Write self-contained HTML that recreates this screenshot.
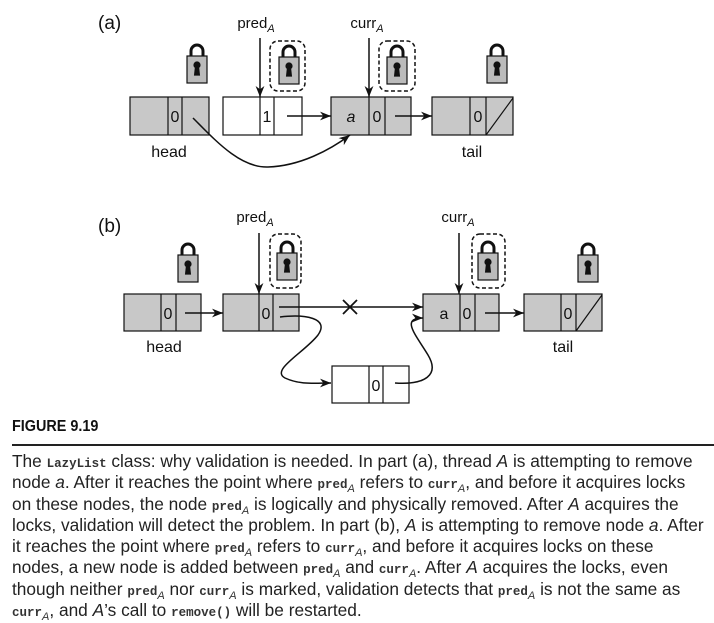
<!DOCTYPE html>
<html><head><meta charset="utf-8"><style>
body{margin:0;background:#fff;width:714px;height:617px;overflow:hidden;position:relative;font-family:"Liberation Sans",sans-serif}
svg{position:absolute;left:0;top:0}
#cap{position:absolute;left:0;top:418px;width:714px}
.fig{position:absolute;left:12px;top:0;font-family:"Liberation Sans",sans-serif;font-weight:bold;font-size:16px;color:#111;transform:scaleX(0.9);transform-origin:left}
.rule{position:absolute;left:12px;top:26px;width:702px;height:1.5px;background:#222}
.txt{position:absolute;left:12px;top:33px;font-family:"Liberation Sans",sans-serif;font-size:17.3px;line-height:21.3px;color:#222;white-space:nowrap}
code{font-family:"Liberation Mono",monospace;font-size:12.5px;font-weight:bold;color:#333;line-height:0}
code sub{font-family:"Liberation Sans",sans-serif;font-style:italic;font-weight:normal;font-size:11px;vertical-align:baseline;position:relative;top:4px;line-height:0}
</style></head><body>
<svg width="714" height="420" viewBox="0 0 714 420">
<defs>
<marker id="ah" viewBox="0 0 10 10" refX="10" refY="5" markerWidth="11" markerHeight="11" orient="auto" markerUnits="userSpaceOnUse"><path d="M0,1 L10,5 L0,9 L3,5 Z" fill="#111"/></marker>
<g id="lock"><path d="M4,14 V8 A6,6 0 0 1 16,8 V14" fill="none" stroke="#111" stroke-width="3"/><rect x="0" y="13" width="20" height="27" fill="#bbb" stroke="#111" stroke-width="1.2"/><circle cx="10" cy="22" r="3" fill="#111"/><path d="M8.6,23 L7.6,32 H12.4 L11.4,23 Z" fill="#111"/></g>
</defs>
<g font-family="Liberation Sans,sans-serif" font-size="17" fill="#111" stroke="none">
<text x="98" y="29" font-size="19">(a)</text>
<text x="98" y="232" font-size="19">(b)</text>
</g>
<g stroke="#111" stroke-width="1.2">
 <g><rect x="130" y="97" width="79" height="38" fill="#c8c8c8"/><line x1="168" y1="97" x2="168" y2="135"/><line x1="182" y1="97" x2="182" y2="135"/></g>
 <g><rect x="223" y="97" width="79" height="38" fill="#fff"/><line x1="260" y1="97" x2="260" y2="135"/><line x1="274" y1="97" x2="274" y2="135"/></g>
 <g><rect x="331" y="97" width="80" height="38" fill="#c8c8c8"/><line x1="369" y1="97" x2="369" y2="135"/><line x1="385" y1="97" x2="385" y2="135"/></g>
 <g><rect x="432" y="97" width="81" height="38" fill="#c8c8c8"/><line x1="470" y1="97" x2="470" y2="135"/><line x1="486" y1="97" x2="486" y2="135"/><line x1="486" y1="135" x2="513" y2="98"/></g>
 <use href="#lock" x="187" y="43"/>
 <use href="#lock" x="279" y="44"/>
 <rect x="270" y="41" width="35" height="50" rx="8" fill="none" stroke-dasharray="4,2.5" stroke-width="1.5"/>
 <use href="#lock" x="387" y="44"/>
 <rect x="379" y="41" width="36" height="50" rx="8" fill="none" stroke-dasharray="4,2.5" stroke-width="1.5"/>
 <use href="#lock" x="487" y="43"/>
 <line x1="260" y1="38" x2="260" y2="97" marker-end="url(#ah)" stroke-width="1.5"/>
 <line x1="369" y1="38" x2="369" y2="97" marker-end="url(#ah)" stroke-width="1.5"/>
 <line x1="287" y1="116" x2="331" y2="116" marker-end="url(#ah)" stroke-width="1.5"/>
 <line x1="395" y1="116" x2="432" y2="116" marker-end="url(#ah)" stroke-width="1.5"/>
 <path d="M193,118 C215,140 240,168 268,167 C300,166 330,150 350,135" fill="none" marker-end="url(#ah)" stroke-width="1.5"/>
</g>
<g font-family="Liberation Sans,sans-serif" font-size="16" fill="#111" text-anchor="middle">
 <text x="175" y="122">0</text><text x="267" y="122">1</text><text x="351" y="122" font-style="italic">a</text><text x="377" y="122">0</text><text x="478" y="122">0</text>
 <text x="169" y="157">head</text>
 <text x="472" y="157">tail</text>
 <text x="256" y="28" font-size="15">pred<tspan font-style="italic" font-size="11" dy="4">A</tspan></text>
 <text x="367" y="28" font-size="15">curr<tspan font-style="italic" font-size="11" dy="4">A</tspan></text>
</g>
<g stroke="#111" stroke-width="1.2">
 <g><rect x="124" y="294" width="77" height="37" fill="#c8c8c8"/><line x1="161" y1="294" x2="161" y2="331"/><line x1="176" y1="294" x2="176" y2="331"/></g>
 <g><rect x="223" y="294" width="76" height="37" fill="#c8c8c8"/><line x1="259" y1="294" x2="259" y2="331"/><line x1="273" y1="294" x2="273" y2="331"/></g>
 <g><rect x="423" y="294" width="76" height="37" fill="#c8c8c8"/><line x1="460" y1="294" x2="460" y2="331"/><line x1="475" y1="294" x2="475" y2="331"/></g>
 <g><rect x="524" y="294" width="78" height="37" fill="#c8c8c8"/><line x1="561" y1="294" x2="561" y2="331"/><line x1="576" y1="294" x2="576" y2="331"/><line x1="576" y1="331" x2="602" y2="295"/></g>
 <g><rect x="332" y="366" width="77" height="37" fill="#fff"/><line x1="369" y1="366" x2="369" y2="403"/><line x1="383" y1="366" x2="383" y2="403"/></g>
 <use href="#lock" x="178" y="242"/>
 <use href="#lock" x="277" y="240"/>
 <rect x="270" y="234" width="31" height="54" rx="8" fill="none" stroke-dasharray="4,2.5" stroke-width="1.5"/>
 <use href="#lock" x="478" y="240"/>
 <rect x="472" y="234" width="33" height="54" rx="8" fill="none" stroke-dasharray="4,2.5" stroke-width="1.5"/>
 <use href="#lock" x="578" y="242"/>
 <line x1="259" y1="233" x2="259" y2="294" marker-end="url(#ah)" stroke-width="1.5"/>
 <line x1="459" y1="233" x2="459" y2="294" marker-end="url(#ah)" stroke-width="1.5"/>
 <line x1="185" y1="313" x2="223" y2="313" marker-end="url(#ah)" stroke-width="1.5"/>
 <line x1="279" y1="307" x2="423" y2="307" marker-end="url(#ah)" stroke-width="1.5"/>
 <line x1="343" y1="300" x2="357" y2="314" stroke-width="1.8"/><line x1="357" y1="300" x2="343" y2="314" stroke-width="1.8"/>
 <line x1="485" y1="313" x2="524" y2="313" marker-end="url(#ah)" stroke-width="1.5"/>
 <path d="M280,317 C305,314 330,318 318,335 C305,352 270,370 285,378 C300,385 315,383 331,383" fill="none" marker-end="url(#ah)" stroke-width="1.5"/>
 <path d="M395,383 C425,385 440,375 428,355 C416,335 400,318 423,318" fill="none" marker-end="url(#ah)" stroke-width="1.5"/>
</g>
<g font-family="Liberation Sans,sans-serif" font-size="16" fill="#111" text-anchor="middle">
 <text x="168" y="319">0</text><text x="266" y="319">0</text><text x="444" y="319">a</text><text x="467" y="319">0</text><text x="568" y="319">0</text><text x="376" y="391">0</text>
 <text x="164" y="352">head</text>
 <text x="563" y="352">tail</text>
 <text x="255" y="222" font-size="15">pred<tspan font-style="italic" font-size="11" dy="4">A</tspan></text>
 <text x="458" y="222" font-size="15">curr<tspan font-style="italic" font-size="11" dy="4">A</tspan></text>
</g>
</svg>
<div id="cap">
<div class="fig">FIGURE 9.19</div>
<div class="rule"></div>
<div class="txt">
The <code>LazyList</code> class: why validation is needed. In part (a), thread <i>A</i> is attempting to remove<br>
node <i>a</i>. After it reaches the point where <code>pred<sub>A</sub></code> refers to <code>curr<sub>A</sub></code>, and before it acquires locks<br>
on these nodes, the node <code>pred<sub>A</sub></code> is logically and physically removed. After <i>A</i> acquires the<br>
locks, validation will detect the problem. In part (b), <i>A</i> is attempting to remove node <i>a</i>. After<br>
it reaches the point where <code>pred<sub>A</sub></code> refers to <code>curr<sub>A</sub></code>, and before it acquires locks on these<br>
nodes, a new node is added between <code>pred<sub>A</sub></code> and <code>curr<sub>A</sub></code>. After <i>A</i> acquires the locks, even<br>
though neither <code>pred<sub>A</sub></code> nor <code>curr<sub>A</sub></code> is marked, validation detects that <code>pred<sub>A</sub></code> is not the same as<br>
<code>curr<sub>A</sub></code>, and <i>A</i>’s call to <code>remove()</code> will be restarted.
</div>
</div>
</body></html>
